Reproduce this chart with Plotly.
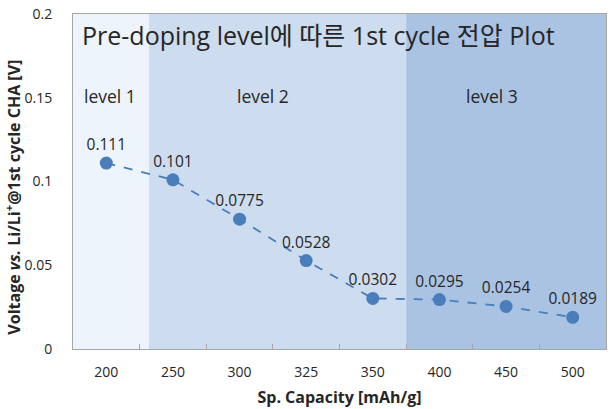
import plotly.graph_objects as go

capacity = ["200", "250", "300", "325", "350", "400", "450", "500"]
voltage = [0.111, 0.101, 0.0775, 0.0528, 0.0302, 0.0295, 0.0254, 0.0189]
value_labels = ["0.111", "0.101", "0.0775", "0.0528", "0.0302", "0.0295", "0.0254", "0.0189"]
levels = ["level 1", "level 2", "level 3"]
y_ticks = [0, 0.05, 0.1, 0.15, 0.2]
y_tick_labels = ["0", "0.05", "0.1", "0.15", "0.2"]

FONT = "Open Sans, Noto Sans CJK KR"
TXT = "#262626"
BLUE = "#4a7ebb"

fig = go.Figure()
fig.add_trace(go.Scatter(
    x=capacity, y=voltage, mode="lines+markers+text",
    text=value_labels, textposition="top center",
    textfont=dict(family=FONT, size=15.5, color=TXT),
    line=dict(color=BLUE, width=1.8, dash="dash"),
    marker=dict(color=BLUE, size=13),
    showlegend=False, cliponaxis=False,
))

band_edges = [-0.5, 0.64, 4.5, 7.5]
band_colors = ["#eef4fc", "#cedcef", "#aac3e3"]
for i in range(3):
    fig.add_shape(type="rect", xref="x", yref="paper",
                  x0=band_edges[i], x1=band_edges[i + 1], y0=0, y1=1,
                  fillcolor=band_colors[i], line_width=0, layer="below")
label_x = [0.05, 2.35, 5.79]
for i, lab in enumerate(levels):
    fig.add_annotation(x=label_x[i], y=0.151, xref="x", yref="y", text=lab,
                       showarrow=False, font=dict(family=FONT, size=17.5, color=TXT))

fig.add_annotation(x=-0.39, y=0.1875, xref="x", yref="y",
                   text="Pre-doping level에 따른 1st cycle 전압 Plot",
                   showarrow=False, xanchor="left",
                   font=dict(family=FONT, size=25, color=TXT))

fig.add_annotation(x=-0.1124, y=0.452, xref="paper", yref="paper", textangle=-90,
                   text="<b>Voltage <i>vs.</i> Li/Li<sup>+</sup>@1st cycle CHA [V]</b>",
                   showarrow=False, xanchor="center", yanchor="middle",
                   font=dict(family=FONT, size=16, color=TXT))

fig.update_layout(
    width=611, height=409,
    margin=dict(l=73, r=4, t=8, b=60),
    paper_bgcolor="white", plot_bgcolor="white",
    font=dict(family=FONT, color=TXT),
)
fig.update_xaxes(
    type="category", range=[-0.5, 7.5], tickson="boundaries",
    ticks="inside", ticklen=5, tickcolor="#a6a6a6",
    showline=True, linecolor="#a6a6a6", linewidth=1, mirror=True,
    showgrid=False, tickfont=dict(family=FONT, size=14, color=TXT),
    ticklabelstandoff=10,
    title=dict(text="<b>Sp. Capacity [mAh/g]</b>", font=dict(family=FONT, size=16, color=TXT), standoff=12),
)
fig.update_yaxes(
    range=[0, 0.2], tickvals=y_ticks, ticktext=y_tick_labels,
    showline=True, linecolor="#a6a6a6", linewidth=1, mirror=True,
    showgrid=False, ticks="", tickfont=dict(family=FONT, size=14, color=TXT),
    ticklabelstandoff=17, ticklabeloverflow="allow",
)

fig.write_html("out.html")
